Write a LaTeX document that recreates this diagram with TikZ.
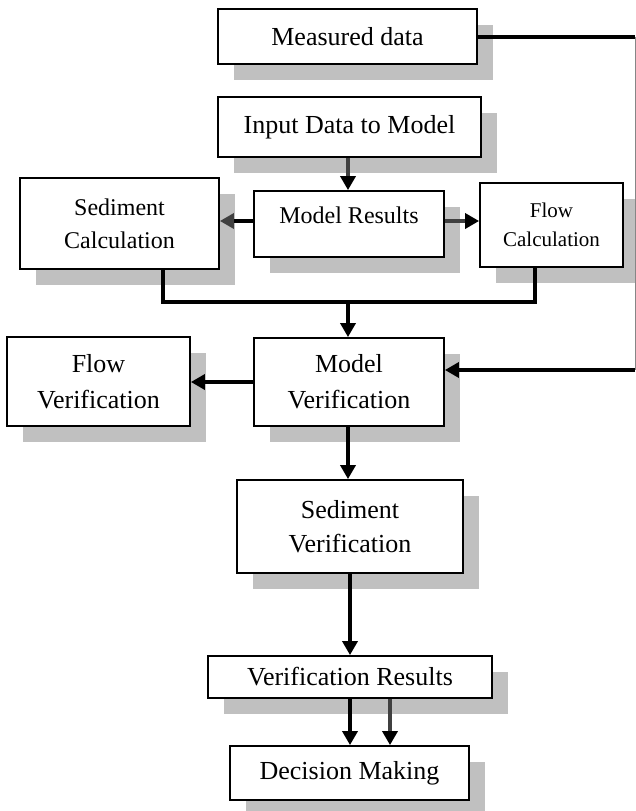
\documentclass[tikz,border=0pt]{standalone}
\usepackage{fontspec}
\setmainfont{Liberation Serif}
\usetikzlibrary{arrows.meta,shadows}
\definecolor{shadowgray}{RGB}{192,192,192}
\definecolor{shaftgray}{RGB}{64,64,64}
\begin{document}
\begin{tikzpicture}[x=1pt,y=-1pt,
  box/.style={draw=black, line width=1.8pt, fill=white, inner sep=0pt, align=center,
    drop shadow={shadow xshift=16pt, shadow yshift=-16pt, fill=shadowgray, opacity=1}},
  big/.style={font=\fontsize{26}{36}\selectfont},
  mid/.style={font=\fontsize{24}{33}\selectfont},
  small/.style={font=\fontsize{21}{29}\selectfont},
  conn/.style={line width=3.4pt},
  tip/.style={-{Triangle[length=14pt,width=15pt,color=#1]}},
  tip/.default=black,
  arr/.style={conn, tip},
]
\useasboundingbox (0,0) rectangle (635,811);

% boxes
\node[box,big,minimum width=259pt,minimum height=55pt] (meas) at (347.5,36.5) {Measured data};
\node[box,big,minimum width=263pt,minimum height=60pt] (input) at (349.5,127) {Input Data to Model};
\node[box,mid,minimum width=199pt,minimum height=91pt] (sedcalc) at (119.5,223.5) {Sediment\\Calculation};
\node[box,mid,minimum width=190pt,minimum height=66pt,text height=17pt,text depth=19pt] (modres) at (349,224) {Model Results};
\node[box,small,minimum width=143pt,minimum height=84pt] (flowcalc) at (551.5,225) {Flow\\Calculation};
\node[box,big,minimum width=183pt,minimum height=89pt] (flowver) at (98.5,381.5) {Flow\\Verification};
\node[box,big,minimum width=190pt,minimum height=88pt] (modver) at (349,382) {Model\\Verification};
\node[box,big,font=\fontsize{26}{34}\selectfont,minimum width=226pt,minimum height=93pt] (sedver) at (350,526.5) {Sediment\\Verification};
\node[box,big,minimum width=284pt,minimum height=42pt] (verres) at (350,677) {Verification Results};
\node[box,big,minimum width=239pt,minimum height=54pt] (decision) at (349.5,773) {Decision Making};

% helper points for the routed connectors
\coordinate (rtop) at (635,37);
\coordinate (rbot) at (635,370);
\coordinate (jl) at (163,302);
\coordinate (jr) at (535,302);
\coordinate (jm) at (348,302);

% measured data feeds back into model verification
\draw[conn] (meas.east |- rtop) -- (rtop);
\draw[line width=1pt, shadowgray!70!black] (rtop) -- (rbot);
\draw[arr] (rbot) -- (modver.east |- rbot);

% model chain
\draw[arr, draw=shaftgray] (input.south -| 348,0) -- (modres.north -| 348,0);
\draw[conn, tip=shaftgray] (modres.west |- 0,221) -- (sedcalc.east |- 0,221);
\draw[arr, draw=shaftgray] (modres.east |- 0,221) -- (flowcalc.west |- 0,221);
\draw[conn] (sedcalc.south -| jl) -- (jl) -- (jr) -- (flowcalc.south -| jr);
\draw[arr] (jm) -- (modver.north -| jm);

% verification chain
\draw[arr] (modver.west |- 0,382) -- (flowver.east |- 0,382);
\draw[arr] (modver.south -| 348,0) -- (sedver.north -| 348,0);
\draw[arr] (sedver.south -| 350,0) -- (verres.north -| 350,0);
\draw[arr] (verres.south -| 350,0) -- (decision.north -| 350,0);
\draw[arr, draw=shaftgray] (verres.south -| 390,0) -- (decision.north -| 390,0);
\end{tikzpicture}
\end{document}
